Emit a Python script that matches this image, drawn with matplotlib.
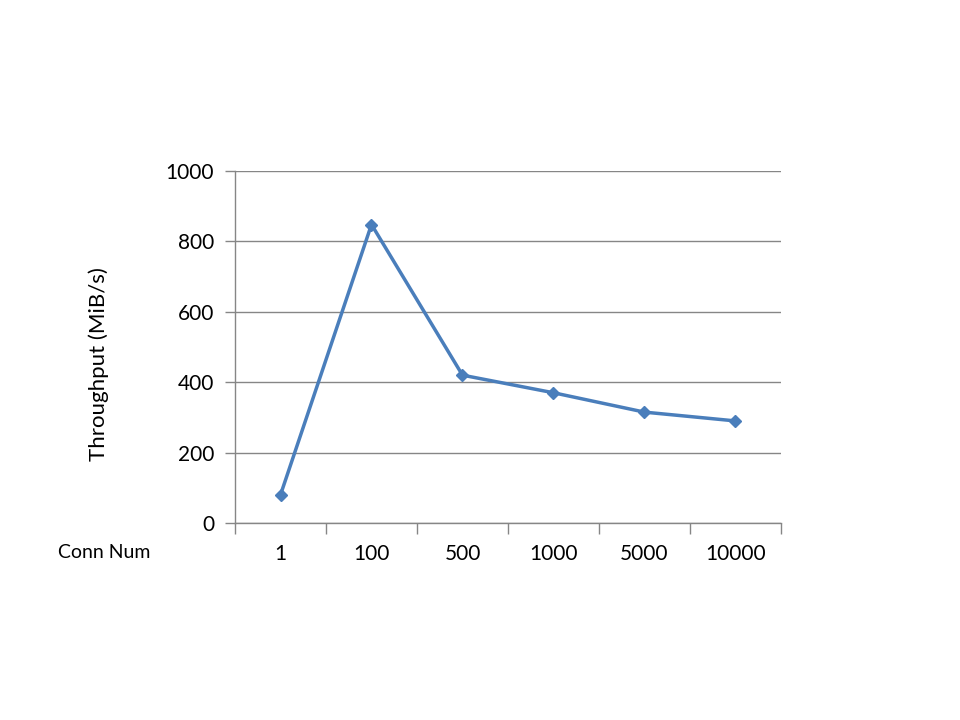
import matplotlib.pyplot as plt

# Données
conn_num = ["1", "100", "500", "1000", "5000", "10000"]
throughput = [80, 848, 420, 370, 315, 290]

plt.rcParams["font.family"] = ["Lato", "DejaVu Sans"]

fig = plt.figure(figsize=[9.6, 7.2], dpi=100)
ax = fig.add_axes([0.2448, 0.2736, 0.5687, 0.4889])

x = list(range(len(conn_num)))
ax.plot(x, throughput, color="#4a7ebb", linewidth=2.5, marker="D", markersize=6,
        markerfacecolor="#4a7ebb", markeredgecolor="#4a7ebb", zorder=3)

ax.set_xlim(-0.5, len(conn_num) - 0.5)
ax.set_ylim(0, 1000)
ax.set_yticks([0, 200, 400, 600, 800, 1000])
ax.yaxis.grid(True, color="#868686", linewidth=1)
ax.set_axisbelow(True)

# Ticks de l'axe x entre les catégories
ax.set_xticks([i - 0.5 for i in range(len(conn_num) + 1)])
ax.set_xticklabels([])
ax.set_xticks(x, minor=True)
ax.set_xticklabels(conn_num, minor=True, fontsize=15)
ax.tick_params(axis="x", which="major", length=8, color="#868686", width=1)
ax.tick_params(axis="x", which="minor", length=0, pad=15)
ax.tick_params(axis="y", length=7, color="#868686", width=1, labelsize=15, pad=8)

for side in ["top", "right"]:
    ax.spines[side].set_visible(False)
for side in ["left", "bottom"]:
    ax.spines[side].set_color("#868686")
    ax.spines[side].set_linewidth(1)

fig.text(99 / 960, 1 - 364 / 720, "Throughput (MiB/s)", rotation=90,
         ha="center", va="center", fontsize=16)
fig.text(58 / 960, 1 - 552 / 720, "Conn Num", ha="left", va="center", fontsize=14)

fig.savefig("out.png", dpi=100)
